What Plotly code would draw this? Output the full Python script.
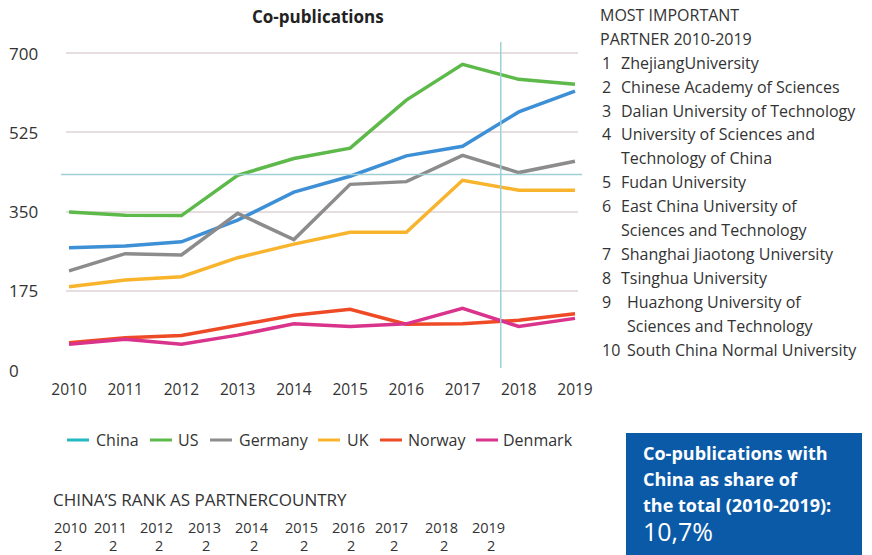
import plotly.graph_objects as go

W, H = 872, 555

years = [2010, 2011, 2012, 2013, 2014, 2015, 2016, 2017, 2018, 2019]
china = [270, 274, 283, 331, 393, 428, 473, 494, 570, 616]
us = [349, 342, 341, 430, 467, 490, 596, 675, 642, 631]
germany = [219, 257, 254, 346, 288, 410, 416, 474, 436, 461]
uk = [184, 199, 206, 248, 278, 304, 304, 419, 397, 397]
norway = [60, 71, 76, 99, 121, 134, 101, 102, 110, 124]
denmark = [57, 68, 57, 77, 102, 96, 102, 136, 96, 114]

y_ticks = [0, 175, 350, 525, 700]
rank_years = ["2010", "2011", "2012", "2013", "2014", "2015", "2016", "2017", "2018", "2019"]
rank_values = ["2", "2", "2", "2", "2", "2", "2", "2", "2", "2"]

partners_title = ["MOST IMPORTANT", "PARTNER 2010-2019"]
partners = [
    ("1", ["ZhejiangUniversity"]),
    ("2", ["Chinese Academy of Sciences"]),
    ("3", ["Dalian University of Technology"]),
    ("4", ["University of Sciences and", "Technology of China"]),
    ("5", ["Fudan University"]),
    ("6", ["East China University of", "Sciences and Technology"]),
    ("7", ["Shanghai Jiaotong University"]),
    ("8", ["Tsinghua University"]),
    ("9", ["Huazhong University of", "Sciences and Technology"]),
    ("10", ["South China Normal University"]),
]

crosshair_x = 2017.68
crosshair_y = 432

FONT = "Open Sans"
TXT = "#333333"

# name, values, line colour, legend colour
series = [
    ("China", china, "#3d8fd6", "#22b8c4"),
    ("US", us, "#5db94a", "#5db94a"),
    ("Germany", germany, "#8c8c8c", "#8c8c8c"),
    ("UK", uk, "#f9b42d", "#f9b42d"),
    ("Norway", norway, "#ef4a26", "#ef4a26"),
    ("Denmark", denmark, "#d9338b", "#d9338b"),
]

fig = go.Figure()
for name, vals, col, legcol in series:
    fig.add_trace(go.Scatter(x=years, y=vals, mode="lines", name=name,
                             line=dict(color=col, width=3.5), showlegend=False))


def px(x):
    return x / W


def py(y):
    return (H - y) / H


x0_dom, x1_dom = 66.2, 577.8
y_top, y_bot = 44, 370

fig.update_layout(
    width=W, height=H,
    margin=dict(l=0, r=0, t=0, b=0, autoexpand=False),
    paper_bgcolor="white", plot_bgcolor="white",
    font=dict(family=FONT, color=TXT, size=15),
    xaxis=dict(domain=[px(x0_dom), px(x1_dom)], range=[2009.95, 2019.05],
               tickmode="array", tickvals=years, ticktext=[str(y) for y in years],
               showgrid=False, zeroline=False, showline=False, ticks="",
               ticklabelstandoff=8, automargin=False,
               tickfont=dict(size=15.5, color=TXT)),
    yaxis=dict(domain=[py(y_bot), py(y_top)], range=[0, 720],
               tickmode="array", tickvals=y_ticks[1:], showticklabels=False,
               showgrid=True, gridcolor="#e6dede", gridwidth=1.5, automargin=False,
               zeroline=False, showline=False),
    showlegend=False,
)

shapes = [
    dict(type="line", xref="paper", yref="y", x0=px(61), x1=px(582),
         y0=crosshair_y, y1=crosshair_y, line=dict(color="#9ed0d6", width=1.5)),
    dict(type="line", xref="x", yref="paper", x0=crosshair_x, x1=crosshair_x,
         y0=py(368), y1=py(42), line=dict(color="#9ed0d6", width=1.5)),
    dict(type="rect", xref="paper", yref="paper", x0=px(626), x1=px(862),
         y0=0, y1=py(433), fillcolor="#0b5aa8", line=dict(width=0), layer="below"),
]

ann = []
# legend (line sample + label)
leg_sample_x = [67, 150, 210, 318, 380, 476]
leg_text_x = [94, 176, 237, 345, 406, 501]
leg_y = 440
for (name, vals, col, legcol), sx, tx in zip(series, leg_sample_x, leg_text_x):
    shapes.append(dict(type="line", xref="paper", yref="paper", x0=px(sx), x1=px(sx + 22),
                       y0=py(leg_y), y1=py(leg_y), line=dict(color=legcol, width=3)))
    ann.append(dict(xref="paper", yref="paper", x=px(tx), y=py(leg_y), text=name,
                    showarrow=False, xanchor="left", yanchor="middle",
                    font=dict(size=16, color=TXT)))

for v in y_ticks:
    ann.append(dict(xref="paper", yref="y", x=px(7), y=v, text=str(v), showarrow=False,
                    xanchor="left", yanchor="middle", font=dict(size=17, color=TXT)))
ann.append(dict(xref="paper", yref="paper", x=px(318), y=py(16), text="<b>Co-publications</b>",
                showarrow=False, xanchor="center", yanchor="middle",
                font=dict(size=17, color="#222222")))
line_y = 15
for t in partners_title:
    ann.append(dict(xref="paper", yref="paper", x=px(598), y=py(line_y), text=t,
                    showarrow=False, xanchor="left", yanchor="middle",
                    font=dict(size=16, color=TXT)))
    line_y += 23.9
for num, lines in partners:
    name_x = 625 if num in ("9", "10") else 619
    ann.append(dict(xref="paper", yref="paper", x=px(600), y=py(line_y), text=num,
                    showarrow=False, xanchor="left", yanchor="middle",
                    font=dict(size=16, color=TXT)))
    for ln in lines:
        ann.append(dict(xref="paper", yref="paper", x=px(name_x), y=py(line_y), text=ln,
                        showarrow=False, xanchor="left", yanchor="middle",
                        font=dict(size=16, color=TXT)))
        line_y += 23.9

ann.append(dict(xref="paper", yref="paper", x=px(51), y=py(499),
                text="CHINA\u2019S RANK AS PARTNERCOUNTRY", showarrow=False,
                xanchor="left", yanchor="middle", font=dict(size=17, color=TXT)))
year_x = [52, 92, 138, 186, 233, 283, 330, 373, 423, 470]
rank_x = [52, 107, 153, 200, 248, 298, 345, 388, 438, 485]
for yx, yr, rx, rv in zip(year_x, rank_years, rank_x, rank_values):
    ann.append(dict(xref="paper", yref="paper", x=px(yx), y=py(527), text=yr,
                    showarrow=False, xanchor="left", yanchor="middle",
                    font=dict(size=14.5, color=TXT)))
    ann.append(dict(xref="paper", yref="paper", x=px(rx), y=py(545), text=rv,
                    showarrow=False, xanchor="left", yanchor="middle",
                    font=dict(size=14.5, color=TXT)))

box_lines = [("<b>Co-publications with</b>", 453, 18), ("<b>China as share of</b>", 479, 18),
             ("<b>the total (2010-2019):</b>", 505, 18), ("10,7%", 531, 25)]
for t, yy, fs in box_lines:
    ann.append(dict(xref="paper", yref="paper", x=px(641), y=py(yy), text=t,
                    showarrow=False, xanchor="left", yanchor="middle",
                    font=dict(size=fs, color="white")))

fig.update_layout(shapes=shapes, annotations=ann)
fig.write_html("out.html", config={"displayModeBar": False},
               post_script="document.body.style.margin='0';document.body.style.overflow='hidden';")
